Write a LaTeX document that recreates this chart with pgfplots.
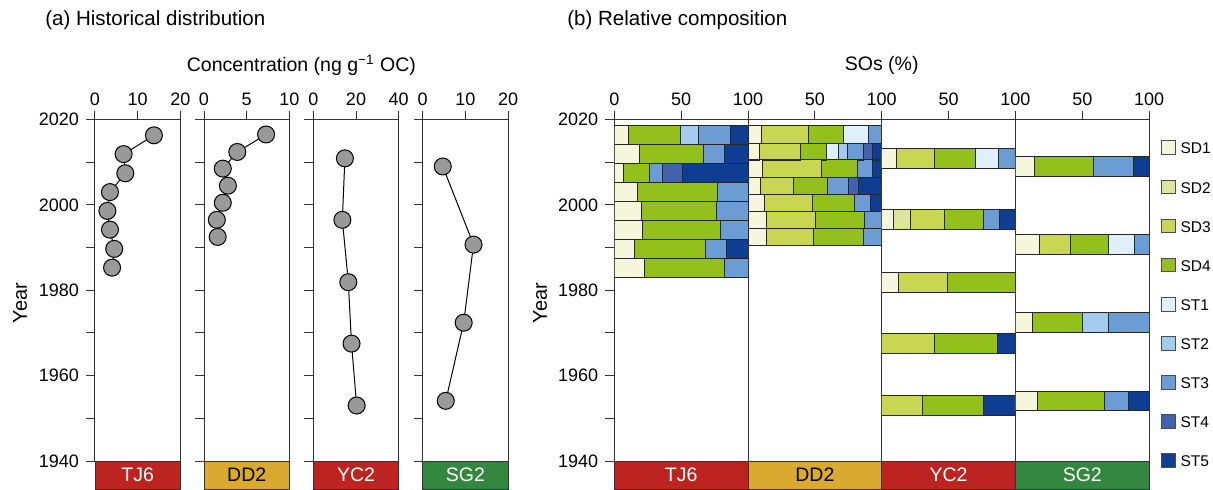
\documentclass[border=0pt]{standalone}
\usepackage{fontspec}
\setmainfont{Liberation Sans}
\usepackage{pgfplots}
\usepackage{pgfplotstable}
\pgfplotsset{compat=1.18}

\definecolor{sd1}{HTML}{F6F6DC}
\definecolor{sd2}{HTML}{DDE59C}
\definecolor{sd3}{HTML}{C8D651}
\definecolor{sd4}{HTML}{93C01A}
\definecolor{st1}{HTML}{DFF0FB}
\definecolor{st2}{HTML}{A2CBEE}
\definecolor{st3}{HTML}{6B9CD3}
\definecolor{st4}{HTML}{4262AE}
\definecolor{st5}{HTML}{0E3D92}
\definecolor{sitered}{HTML}{BD2320}
\definecolor{sitegold}{HTML}{DAA930}
\definecolor{sitegreen}{HTML}{33873E}
\definecolor{dotgray}{HTML}{999999}

% concentrations (ng/g OC) by year
\pgfplotstableread{
Y C
2016.3 13.8
2011.9 6.7
2007.4 7.1
2003.0 3.5
1998.6 2.9
1994.2 3.5
1989.7 4.5
1985.3 4.0
}\tjconc
\pgfplotstableread{
Y C
2016.5 7.27
2012.4 3.9
2008.5 2.2
2004.5 2.8
2000.5 2.2
1996.5 1.5
1992.5 1.6
}\ddconc
\pgfplotstableread{
Y C
2010.9 14.8
1996.5 13.6
1981.9 16.4
1967.5 17.9
1953.0 20.3
}\ycconc
\pgfplotstableread{
Y C
2009.0 4.7
1990.7 11.9
1972.4 9.6
1954.1 5.4
}\sgconc

% relative composition (%)
\pgfplotstableread{
Y SD1 SD2 SD3 SD4 ST1 ST2 ST3 ST4 ST5
2016.3 10.5 0 0 38.75 0 14 23.5 0 13.25
2011.9 18.75 0 0 47.75 0 0 16.25 0 17.25
2007.4 6.75 0 0 19.25 0 0 10 15.25 48.75
2003.0 17.5 0 0 59.5 0 0 23 0 0
1998.6 20 0 0 56.5 0 0 23.5 0 0
1994.2 21 0 0 58.5 0 0 20.5 0 0
1989.7 15.25 0 0 53 0 0 16 0 15.75
1985.3 22.5 0 0 60.25 0 0 17.25 0 0
}\tjcomp
\pgfplotstableread{
Y SD1 SD2 SD3 SD4 ST1 ST2 ST3 ST4 ST5
2016.5 10 0 35.5 25.8 18.5 0 10.2 0 0
2012.4 8.3 0 31.2 19.1 8.8 6.8 12.5 6.5 6.8
2008.5 10.75 0 43.85 27.6 0 0 10.8 0 7.0
2004.5 9 0 25 25.1 0 0 15.7 8 17.2
2000.5 12 0 36.1 31.8 0 0 11.8 0 8.3
1996.5 13.5 0 36.9 36.8 0 0 12.8 0 0
1992.5 14 0 35.1 37.1 0 0 13.8 0 0
}\ddcomp
\pgfplotstableread{
Y SD1 SD2 SD3 SD4 ST1 ST2 ST3 ST4 ST5
2010.9 10.7 0 28.6 31.1 16.9 0 12.7 0 0
1996.5 8.5 12.9 25.6 29.4 0 0 11.4 0 12.2
1981.9 12.4 0 36.6 51 0 0 0 0 0
1967.5 0 0 39.3 47.5 0 0 0 0 13.2
1953.0 0 0 30.6 45.5 0 0 0 0 23.9
}\yccomp
\pgfplotstableread{
Y SD1 SD2 SD3 SD4 ST1 ST2 ST3 ST4 ST5
2009.0 14.5 0 0 44.1 0 0 29.9 0 11.5
1990.7 17.7 0 23.2 28.7 19.7 0 10.7 0 0
1972.4 12.7 0 0 37.4 0 19.2 30.7 0 0
1954.1 16.2 0 0 50.1 0 0 18 0 15.7
}\sgcomp

\pgfplotsset{
  base/.style={
    scale only axis, height=170.75pt,
    ymin=1940, ymax=2020,
    axis line style={black!80, line width=0.5pt},
    tick style={black!80, line width=0.5pt},
    tick align=outside, major tick length=4.5pt, minor tick length=4.5pt,
    xtick pos=right, xticklabel pos=right, ytick pos=left,
    ticklabel style={font=\fontsize{9}{10}\selectfont},
    xticklabel style={yshift=-1pt},
    /pgf/number format/assume math mode=true,
    /pgf/number format/1000 sep={},
  },
  left/.style={base, width=42.7pt,
    ytick={1940,1960,1980,2000,2020}, minor ytick={1950,1970,1990,2010},
    yticklabels={}},
  right/.style={base, width=66.85pt, xmin=0, xmax=100,
    xbar stacked, bar width=#1, xtick={0,50,100}, xticklabels={,50,100},
    ytick=\empty,
    every axis plot/.append style={draw=black!85, line width=0.5pt}},
  conc/.style={black, line width=0.5pt, mark=*, mark size=4.25pt,
    mark options={fill=dotgray, draw=black, line width=0.5pt}},
  sqleg/.style={legend image code/.code={\draw[##1] (0pt,-0.35pt) rectangle (6.85pt,6.5pt);}},
}

\newcommand\compbars[1]{%
  \addplot[fill=sd1] table[x=SD1,y=Y]{#1};
  \addplot[fill=sd2] table[x=SD2,y=Y]{#1};
  \addplot[fill=sd3] table[x=SD3,y=Y]{#1};
  \addplot[fill=sd4] table[x=SD4,y=Y]{#1};
  \addplot[fill=st1] table[x=ST1,y=Y]{#1};
  \addplot[fill=st2] table[x=ST2,y=Y]{#1};
  \addplot[fill=st3] table[x=ST3,y=Y]{#1};
  \addplot[fill=st4] table[x=ST4,y=Y]{#1};
  \addplot[fill=st5] table[x=ST5,y=Y]{#1};
}
\newcommand\sitebox[4]{%
  \draw[black!80, line width=0.5pt, fill=#2] (#1.south west) rectangle ([yshift=-14pt]#1.south east);
  \path (#1.south) ++(0,-7pt) node[text=#3, font=\fontsize{9.75}{10}\selectfont] {#4};
}

\begin{document}
\begin{tikzpicture}
\useasboundingbox (0,0) rectangle (606.5pt,244.5pt);

% (a) concentrations
\begin{axis}[left, name=a1, at={(47.5pt,14pt)}, anchor=south west,
  xmin=0, xmax=20, xtick={0,10,20},
  yticklabels={1940,1960,1980,2000,2020}]
\addplot[conc] table[x=C,y=Y]{\tjconc};
\end{axis}
\begin{axis}[left, name=a2, at={(102pt,14pt)}, anchor=south west,
  xmin=0, xmax=10, xtick={0,5,10}]
\addplot[conc] table[x=C,y=Y]{\ddconc};
\end{axis}
\begin{axis}[left, name=a3, at={(156.65pt,14pt)}, anchor=south west,
  xmin=0, xmax=40, xtick={0,20,40}]
\addplot[conc] table[x=C,y=Y]{\ycconc};
\end{axis}
\begin{axis}[left, name=a4, at={(211.35pt,14pt)}, anchor=south west,
  xmin=0, xmax=20, xtick={0,10,20}]
\addplot[conc] table[x=C,y=Y]{\sgconc};
\end{axis}

% (b) composition
\begin{axis}[right=4.45, name=b1, at={(307.15pt,14pt)}, anchor=south west,
  xticklabels={0,50,100},
  ytick={1940,1960,1980,2000,2020}, minor ytick={1950,1970,1990,2010}]
\compbars{\tjcomp}
\end{axis}
\begin{axis}[right=4.07, name=b2, at={(374pt,14pt)}, anchor=south west]
\compbars{\ddcomp}
\end{axis}
\begin{axis}[right=4.7, name=b3, at={(440.85pt,14pt)}, anchor=south west]
\compbars{\yccomp}
\end{axis}
\begin{axis}[right=4.6, name=b4, at={(507.7pt,14pt)}, anchor=south west,
  legend style={at={(1.085,0.94)}, anchor=north west, draw=none, fill=none,
    inner sep=0pt, row sep=11.3pt, font=\fontsize{7.75}{9}\selectfont,
    nodes={inner sep=0pt, anchor=base west},
    /tikz/every odd column/.append style={column sep=2.5pt}},
  legend cell align=left]
\addlegendimage{sqleg, fill=sd1, draw=black!70}\addlegendentry{SD1}
\addlegendimage{sqleg, fill=sd2, draw=black!70}\addlegendentry{SD2}
\addlegendimage{sqleg, fill=sd3, draw=black!70}\addlegendentry{SD3}
\addlegendimage{sqleg, fill=sd4, draw=black!70}\addlegendentry{SD4}
\addlegendimage{sqleg, fill=st1, draw=black!70}\addlegendentry{ST1}
\addlegendimage{sqleg, fill=st2, draw=black!70}\addlegendentry{ST2}
\addlegendimage{sqleg, fill=st3, draw=black!70}\addlegendentry{ST3}
\addlegendimage{sqleg, fill=st4, draw=black!70}\addlegendentry{ST4}
\addlegendimage{sqleg, fill=st5, draw=black!70}\addlegendentry{ST5}
\compbars{\sgcomp}
\end{axis}

\sitebox{a1}{sitered}{white}{TJ6}
\sitebox{a2}{sitegold}{black}{DD2}
\sitebox{a3}{sitered}{white}{YC2}
\sitebox{a4}{sitegreen}{white}{SG2}
\sitebox{b1}{sitered}{white}{TJ6}
\sitebox{b2}{sitegold}{black}{DD2}
\sitebox{b3}{sitered}{white}{YC2}
\sitebox{b4}{sitegreen}{white}{SG2}

\node[anchor=west, inner sep=0pt, font=\fontsize{10.25}{12}\selectfont] at (22.5pt,234.5pt) {(a) Historical distribution};
\node[anchor=west, inner sep=0pt, font=\fontsize{10.25}{12}\selectfont] at (283.5pt,234.5pt) {(b) Relative composition};
\node[font=\fontsize{9.75}{12}\selectfont] at (150.7pt,212pt) {Concentration (ng g\textsuperscript{−1} OC)};
\node[font=\fontsize{9.75}{12}\selectfont] at (440.85pt,212pt) {SOs (\%)};
\node[rotate=90, font=\fontsize{10}{12}\selectfont] at (10pt,93pt) {Year};
\node[rotate=90, font=\fontsize{10}{12}\selectfont] at (270pt,93pt) {Year};
\end{tikzpicture}
\end{document}
